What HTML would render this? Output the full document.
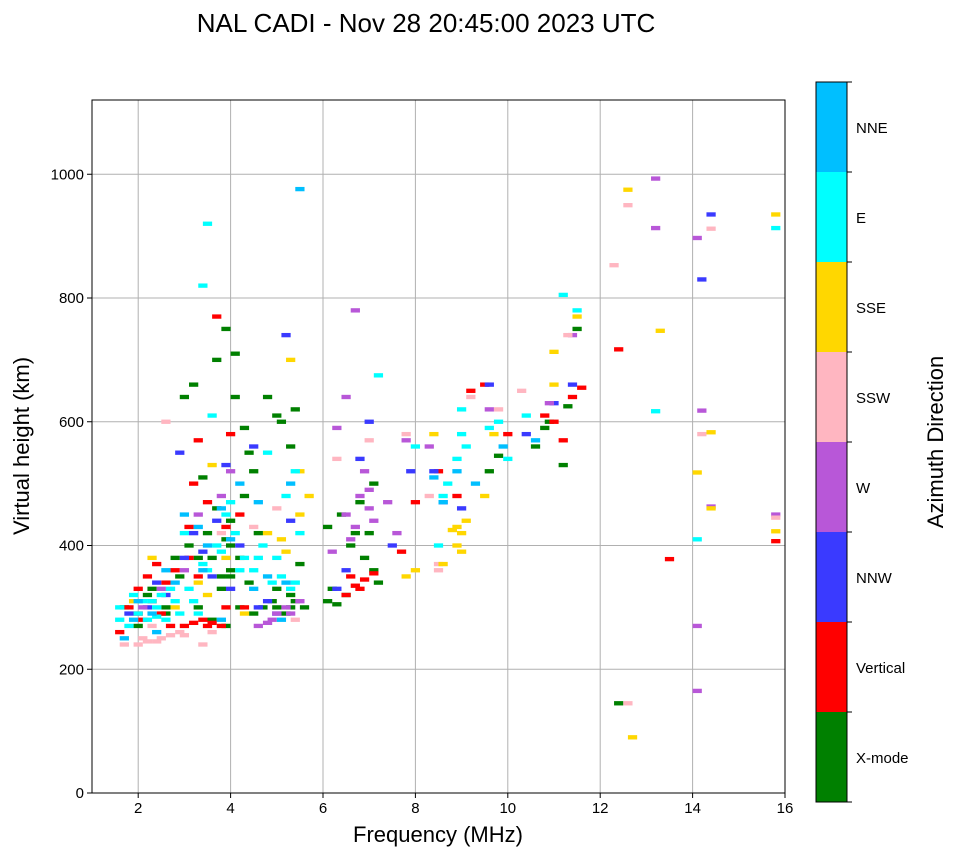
<!DOCTYPE html>
<html><head><meta charset="utf-8"><style>
body{margin:0;background:#fff;width:958px;height:857px;overflow:hidden;font-family:"Liberation Sans",sans-serif}
</style></head><body>
<svg id="chart" width="958" height="857" xmlns="http://www.w3.org/2000/svg" font-family="Liberation Sans, sans-serif">
<text x="426" y="32" font-size="26" text-anchor="middle">NAL CADI - Nov 28 20:45:00 2023 UTC</text>
<g id="grid"></g>
<g id="cells"></g>
<rect x="92" y="100" width="693" height="693" fill="none" stroke="#000" stroke-width="1"/>
<g id="ticks"></g>
<text x="438" y="842" font-size="22" text-anchor="middle">Frequency (MHz)</text>
<text transform="translate(29,446) rotate(-90)" font-size="22" text-anchor="middle">Virtual height (km)</text>
<g id="colorbar"></g>
<text transform="translate(943,442) rotate(-90)" font-size="22" text-anchor="middle">Azimuth Direction</text>
</svg>
<script>
const xTicks=[2,4,6,8,10,12,14,16];
const yTicks=[0,200,400,600,800,1000];
const directions=["X-mode","Vertical","NNW","W","SSW","SSE","E","NNE"];
const dirColors=["#008000","#ff0000","#3a3aff","#b857d8","#ffb6c1","#ffd700","#00ffff","#00bfff"];
const xmode=[[1.7,300],[2.0,270],[2.3,330],[2.6,300],[2.9,350],[3.1,400],[3.3,380],[3.5,420],[3.7,700],[3.9,750],[3.8,350],[4.0,360],[4.0,440],[4.2,300],[4.1,710],[3.6,280],[3.9,270],[4.5,290],[4.7,300],[4.9,310],[5.0,330],[5.2,290],[5.3,320],[5.1,600],[5.3,560],[4.8,640],[5.4,620],[4.5,520],[4.3,480],[4.6,420],[5.0,610],[6.1,430],[6.1,310],[6.3,305],[6.5,320],[6.7,420],[6.9,380],[7.1,360],[7.2,340],[6.4,450],[6.8,470],[7.1,500],[9.6,520],[9.8,545],[10.6,560],[10.8,590],[10.9,600],[11.2,530],[11.5,750],[11.3,625],[12.4,145],[3.0,640],[3.2,660],[2.6,290],[3.4,510],[4.1,640],[4.4,550],[5.5,370],[5.6,300],[4.0,400],[3.6,380],[5.4,310],[3.8,330],[4.0,350],[4.2,380],[3.9,410],[4.4,340],[5.0,300],[5.3,300],[2.2,320],[2.8,380],[3.3,300],[3.7,460],[4.3,590],[6.2,330],[6.6,400],[7.0,420]];
const vertical=[[1.6,260],[1.8,300],[2.0,330],[2.2,350],[2.4,370],[2.5,290],[2.8,360],[3.0,270],[3.2,275],[3.4,280],[3.6,275],[3.8,270],[3.9,300],[3.5,470],[3.7,770],[3.2,500],[3.3,570],[3.1,430],[3.9,430],[4.3,300],[4.2,450],[4.0,580],[6.5,320],[6.7,335],[6.9,345],[7.1,355],[6.6,350],[7.7,390],[8.0,470],[8.5,520],[8.9,480],[9.2,650],[9.5,660],[10.0,580],[10.8,610],[11.2,570],[11.4,640],[11.6,655],[12.4,717],[13.5,378],[15.8,407],[11.0,600],[2.0,290],[2.3,310],[2.6,340],[2.7,270],[3.1,380],[3.5,270],[3.3,350],[2.1,280],[6.8,330]];
const nnw=[[1.8,290],[2.2,300],[2.6,320],[3.0,380],[3.4,390],[3.7,440],[3.9,530],[4.2,400],[4.6,300],[5.0,290],[5.3,440],[5.2,740],[6.5,360],[6.8,540],[7.0,600],[7.5,400],[7.9,520],[8.4,520],[8.6,470],[9.0,460],[9.6,660],[10.4,580],[11.0,630],[11.4,660],[14.4,935],[14.2,830],[6.3,330],[2.9,550],[4.5,560],[3.6,350],[4.0,330],[4.8,310],[2.4,340],[3.2,420]];
const west=[[2.1,300],[2.5,330],[3.0,360],[3.3,450],[3.8,480],[4.0,520],[4.6,270],[4.9,280],[5.2,300],[5.5,310],[6.2,390],[6.5,450],[6.7,430],[6.8,480],[7.0,460],[7.1,440],[6.9,520],[6.5,640],[6.7,780],[7.6,420],[7.8,570],[8.3,560],[9.6,620],[10.9,630],[11.4,740],[13.2,993],[13.2,913],[14.1,897],[14.2,618],[14.1,270],[14.1,165],[14.4,463],[15.8,450],[7.4,470],[6.3,590],[5.0,290],[4.8,275],[5.3,290],[6.6,410],[7.0,490]];
const ssw=[[1.7,240],[2.1,250],[2.4,245],[2.7,255],[2.9,260],[2.6,600],[3.4,240],[3.8,420],[4.5,430],[5.0,460],[5.4,280],[6.3,540],[7.0,570],[7.8,580],[8.3,480],[8.5,360],[8.5,370],[9.2,640],[9.8,620],[11.3,740],[12.6,950],[12.3,853],[12.6,145],[14.4,912],[14.2,580],[15.8,445],[10.3,650],[2.3,270],[2.2,245],[2.5,250],[3.0,255],[3.6,260],[2.0,240]];
const sse=[[1.9,310],[2.3,380],[2.8,300],[3.3,340],[3.6,530],[3.9,380],[4.3,290],[4.8,420],[5.2,390],[5.5,520],[5.7,480],[5.3,700],[7.8,350],[8.0,360],[8.4,580],[8.9,430],[9.0,420],[8.9,400],[9.1,440],[9.0,390],[9.5,480],[9.7,580],[11.5,770],[11.0,660],[12.6,975],[12.7,90],[13.3,747],[14.1,518],[14.4,583],[14.4,460],[15.8,423],[15.8,935],[11.0,713],[8.6,370],[5.5,450],[5.1,410],[3.5,320],[8.8,425]];
const east=[[1.6,280],[1.8,270],[2.0,290],[2.2,280],[2.4,300],[2.5,320],[2.7,330],[2.9,290],[3.1,330],[3.3,290],[3.5,360],[3.7,400],[3.9,450],[4.1,420],[4.3,380],[4.5,360],[4.7,400],[4.9,340],[5.1,350],[5.3,330],[5.5,420],[5.2,480],[5.4,520],[4.8,550],[3.5,920],[3.4,820],[3.6,610],[4.0,470],[7.2,675],[8.5,400],[8.9,540],[9.0,580],[8.7,500],[9.0,620],[9.6,590],[10.0,540],[9.8,600],[10.4,610],[11.5,780],[11.2,805],[13.2,617],[14.1,410],[15.8,913],[8.0,560],[2.3,310],[1.9,320],[3.0,420],[1.6,300],[2.1,310],[2.6,280],[2.8,310],[3.2,310],[3.4,370],[3.8,390],[4.2,360],[4.6,380],[5.0,380],[5.4,340],[2.4,285],[9.1,560],[8.6,480]];
const nne=[[1.7,250],[2.0,310],[2.4,260],[2.6,360],[3.0,450],[3.3,430],[3.5,400],[3.8,460],[4.2,500],[4.5,330],[4.8,350],[5.1,280],[5.3,500],[5.5,976],[8.4,510],[8.6,470],[8.9,520],[9.3,500],[9.9,560],[10.6,570],[3.8,280],[2.8,340],[4.6,470],[1.9,280],[2.3,290],[3.4,360],[4.0,410],[5.2,340]];
const seriesList=[xmode,vertical,nnw,west,ssw,sse,east,nne];

const NS="http://www.w3.org/2000/svg";
const X0=92,X1=785,Y0=793,Y1=100,FMIN=1,FMAX=16,HMIN=0,HMAX=1120;
const xs=f=>X0+(f-FMIN)/(FMAX-FMIN)*(X1-X0);
const ys=h=>Y0-(h-HMIN)/(HMAX-HMIN)*(Y0-Y1);
function mk(tag,attrs,parent){const e=document.createElementNS(NS,tag);for(const k in attrs)e.setAttribute(k,attrs[k]);parent.appendChild(e);return e;}
const grid=document.getElementById('grid'),ticks=document.getElementById('ticks');
xTicks.forEach(v=>{
  const l=mk('line',{x1:xs(v),x2:xs(v),y1:Y1,y2:Y0,stroke:'#b0b0b0','stroke-width':1},grid);
  
  
  mk('line',{x1:xs(v),x2:xs(v),y1:Y0,y2:Y0+5,stroke:'#000'},ticks);
  const t=mk('text',{x:xs(v),y:Y0+20,'font-size':15,'text-anchor':'middle'},ticks);
  t.textContent=v;
  
  
});
yTicks.forEach(v=>{
  const l=mk('line',{x1:X0,x2:X1,y1:ys(v),y2:ys(v),stroke:'#b0b0b0','stroke-width':1},grid);
  
  
  mk('line',{x1:X0-5,x2:X0,y1:ys(v),y2:ys(v),stroke:'#000'},ticks);
  const t=mk('text',{x:X0-8,y:ys(v)+5,'font-size':15,'text-anchor':'end'},ticks);
  t.textContent=v;
  
  
});
const cells=document.getElementById('cells');
const CW=0.2,CH=7;
seriesList.forEach((s,i)=>{s.forEach(p=>{
  const x=xs(p[0]-CW/2),y=ys(p[1]+CH/2);
  const r=mk('rect',{x:x,y:y,width:xs(p[0]+CW/2)-x,height:ys(p[1]-CH/2)-y,fill:dirColors[i]},cells);
  
  
});});
const cb=document.getElementById('colorbar');
const CBX=816,CBW=31,CBT=82,CBB=802,seg=(CBB-CBT)/directions.length;
directions.forEach((d,i)=>{
  const y=CBB-(i+1)*seg;
  const r=mk('rect',{x:CBX,y:y,width:CBW,height:seg,fill:dirColors[i]},cb);
  
  
  mk('line',{x1:CBX+CBW,x2:CBX+CBW+5,y1:y,y2:y,stroke:'#000'},cb);
  const t=mk('text',{x:856,y:y+seg/2+6,'font-size':15},cb);
  t.textContent=d;
  
  
});
mk('line',{x1:CBX+CBW,x2:CBX+CBW+5,y1:CBB,y2:CBB,stroke:'#000'},cb);
mk('rect',{x:CBX,y:CBT,width:CBW,height:CBB-CBT,fill:'none',stroke:'#000'},cb);
</script>
</body></html>
